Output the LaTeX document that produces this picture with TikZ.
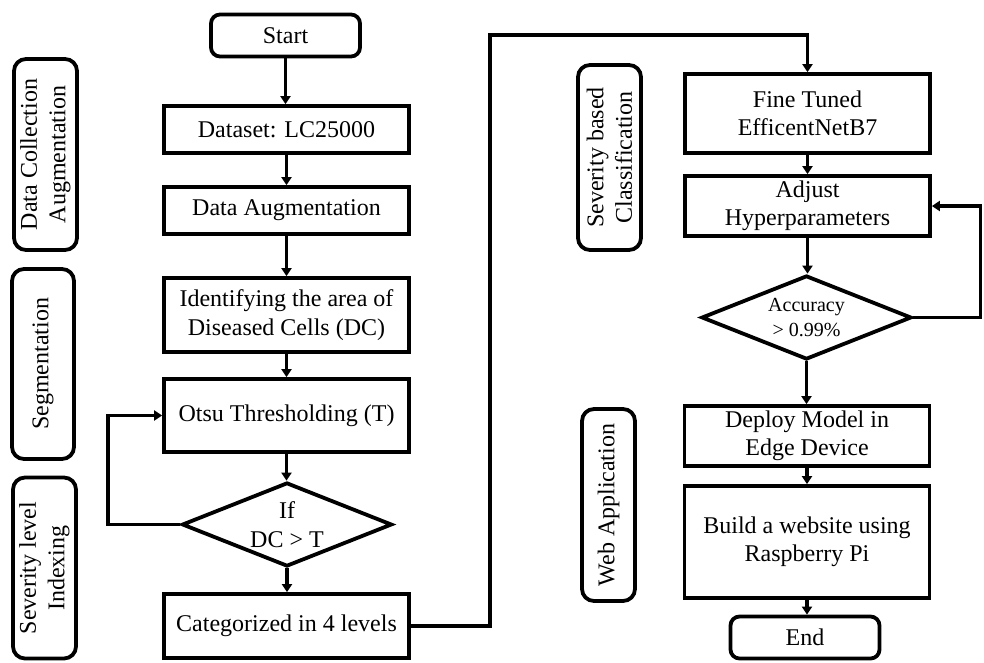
\documentclass[tikz,border=0pt]{standalone}
\usepackage{fontspec}
\setmainfont{Liberation Serif}
\usetikzlibrary{shapes.geometric,arrows.meta}
\begin{document}
\begin{tikzpicture}[x=1pt,y=-1pt,
  every node/.style={line width=3.8pt, inner sep=0pt, align=center, font=\fontsize{24}{28.5}\selectfont},
  box/.style={draw, rectangle, minimum width=245, minimum height=#1},
  rbox/.style={draw, rectangle, rounded corners=9pt, minimum width=149, minimum height=42},
  side/.style={draw, rectangle, rounded corners=12pt, rotate=90},
  dec/.style={draw, diamond, aspect=2.45, minimum width=210, minimum height=84},
  arr/.style={line width=3.8pt, -{Triangle[length=8pt,width=10pt]}}
]
\useasboundingbox (0,0) rectangle (984,662);

% side labels
\node[side, minimum width=191, minimum height=63] (s1) at (45.5,154.5) {Data Collection\\Augmentation};
\node[side, minimum width=190, minimum height=62] (s2) at (43,364) {Segmentation};
\node[side, minimum width=181, minimum height=63] (s3) at (44.5,568) {Severity level\\Indexing};
\node[side, minimum width=185, minimum height=63] (s4) at (609.5,157.5) {Severity based\\Classification};
\node[side, minimum width=192, minimum height=53] (s5) at (608.5,505) {Web Application};

% left column
\node[rbox] (start) at (285.5,35.5) {Start};
\node[box=47] (data) at (286.5,129.5) {Dataset: LC25000};
\node[box=47] (aug) at (286.5,210.5) {Data Augmentation};
\node[box=74] (ident) at (286.5,315) {Identifying the area of\\Diseased Cells (DC)};
\node[box=73] (otsu) at (286.5,415.5) {Otsu Thresholding (T)};
\node[dec] (if) at (287,524.5) {If\\DC > T};
\node[box=64] (cat) at (286.5,626) {Categorized in 4 levels};

% right column
\node[box=79] (fine) at (807.5,113.5) {Fine Tuned\\EfficentNetB7};
\node[box=60] (adj) at (807.5,206) {Adjust\\Hyperparameters};
\node[dec, font=\fontsize{20}{25}\selectfont] (acc) at (806.5,317.5) {Accuracy\\> 0.99\%};
\node[box=60] (dep) at (807,436) {Deploy Model in\\Edge Device};
\node[box=112] (build) at (807,542) {Build a website using\\Raspberry Pi};
\node[rbox] (end) at (805,637.5) {End};

\coordinate (c1) at (490,35);

% connectors
\draw[arr] (start.south) -- (start.south |- data.north);
\draw[arr] (data.south) -- (data.south |- aug.north);
\draw[arr] (aug.south) -- (aug.south |- ident.north);
\draw[arr] (ident.south) -- (ident.south |- otsu.north);
\draw[arr] (otsu.south) -- (otsu.south |- if.north);
\draw[arr] (if.south) -- (if.south |- cat.north);
\draw[arr] (if.west) -- ++(-72,0) |- (otsu.west);
\draw[arr] (cat.east) -| (c1) -| (fine.north);
\draw[arr] (fine.south) -- (fine.south |- adj.north);
\draw[arr] (adj.south) -- (adj.south |- acc.north);
\draw[arr] (acc.east) -- ++(67,0) |- (adj.east);
\draw[arr] (acc.south) -- (acc.south |- dep.north);
\draw[arr] (dep.south) -- (dep.south |- build.north);
\draw[arr] (build.south) -- (build.south |- end.north);
\end{tikzpicture}
\end{document}
